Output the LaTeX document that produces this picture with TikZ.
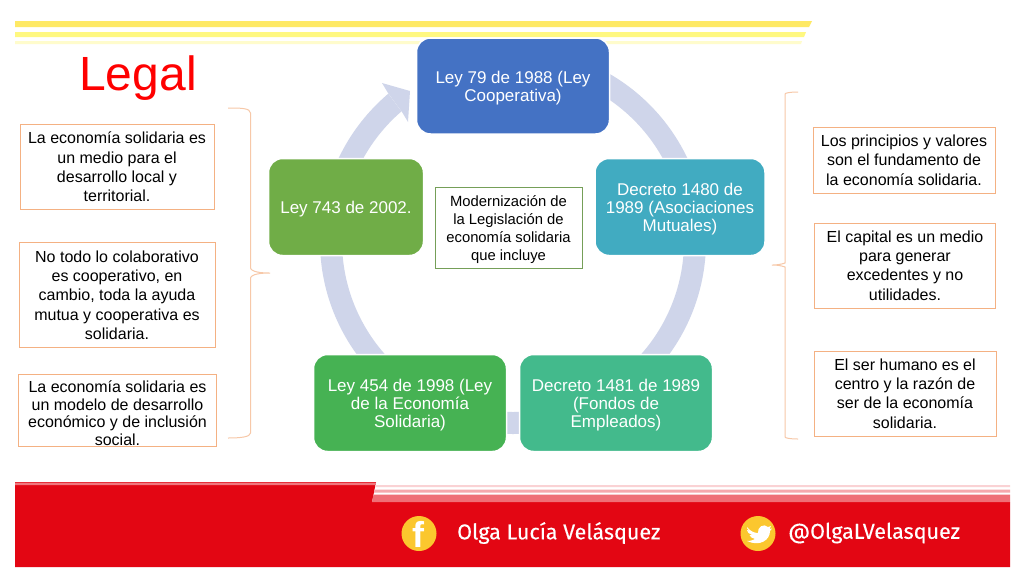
\documentclass[tikz,border=0pt]{standalone}
\usepackage{fontspec}
\setmainfont{Liberation Sans}
\newfontfamily\footfont[FakeBold=0.25]{Fira Sans}
\definecolor{ringc}{HTML}{CFD5EA}
\definecolor{bluec}{HTML}{4472C4}
\definecolor{tealc}{HTML}{41ABC1}
\definecolor{seac}{HTML}{43BA8C}
\definecolor{greenc}{HTML}{46B253}
\definecolor{oliv}{HTML}{70AD47}
\definecolor{orangec}{HTML}{F4B183}
\definecolor{bandred}{HTML}{E30613}
\definecolor{goldc}{HTML}{FBC72E}
\tikzset{
 x=1pt,y=-1pt,
 cyc/.style={draw=white,line width=1.5pt,rounded corners=14pt,text=white,align=center,font=\fontsize{17}{18}\selectfont,inner sep=0pt},
 note/.style={draw=orangec,line width=1pt,fill=white,align=center,text=black,font=\fontsize{16}{19.3}\selectfont,inner sep=0pt},
 brace/.style={draw=orangec!70,line width=1pt,rounded corners=3pt},
}
\newcommand{\cyclenode}[6]{\node[cyc,fill=#4,minimum width=#5pt,minimum height=#6pt] (#1) at #2 {\mbox{}\\[-1.6pt]#3};}
\begin{document}
\begin{tikzpicture}
\useasboundingbox (0,0) rectangle (1024,576);
\fill[white] (0,0) rectangle (1024,576);
% yellow bands
\fill[yellow!80!orange!60] (15,21) -- (812,21) -- (809,27) -- (15,27) -- cycle;
\fill[yellow!50] (15,32) -- (806,32) -- (804,37) -- (15,37) -- cycle;
\fill[yellow!20] (15,41) -- (802,41) -- (801,44) -- (15,44) -- cycle;
% ring
\draw[ringc,line width=22pt] (513,241) circle[radius=182pt];
\fill[white] (388,93) -- (402,112) -- (420,130) -- (420,60) -- (388,60) -- cycle;
\fill[ringc] (382,83) -- (410,91) -- (408,122) -- (402,112) -- (388,93) -- cycle;
% cycle nodes
\cyclenode{a}{(513,86)}{Ley 79 de 1988 (Ley\\Cooperativa)}{bluec}{193}{96}
\cyclenode{b}{(680,207)}{Decreto 1480 de\\1989 (Asociaciones\\Mutuales)}{tealc}{170}{97}
\cyclenode{c}{(616,403)}{Decreto 1481 de 1989\\(Fondos de\\Empleados)}{seac}{193}{97}
\cyclenode{d}{(410,403)}{Ley 454 de 1998 (Ley\\de la Economía\\Solidaria)}{greenc}{193}{97}
\cyclenode{e}{(346,207)}{Ley 743 de 2002.}{oliv}{155}{97}
% centre
\node[draw=oliv!70!gray,line width=.8pt,fill=white,minimum width=147pt,minimum height=81pt,align=center,inner sep=0pt,font=\fontsize{14.8}{18}\selectfont] (m) at (508.5,228) {\mbox{}\\[-3.2pt]Modernización de\\la Legislación de\\economía solidaria\\que incluye};
\node[text=red,font=\fontsize{48}{48}\selectfont] (t) at (138,78) {Legal};
% left notes
\node[note,minimum width=194pt,minimum height=85pt] (l1) at (117,167) {La economía solidaria es\\un medio para el\\desarrollo local y\\territorial.};
\node[note,minimum width=196pt,minimum height=105pt] (l2) at (117,295) {No todo lo colaborativo\\es cooperativo, en\\cambio, toda la ayuda\\mutua y cooperativa es\\solidaria.};
\node[note,minimum width=198pt,minimum height=72pt,font=\fontsize{16}{17.5}\selectfont] (l3) at (117.5,410.5) {\mbox{}\\[-0.8pt]La economía solidaria es\\un modelo de desarrollo\\económico y de inclusión\\social.};
% right notes
\node[note,minimum width=182pt,minimum height=66pt] (r1) at (904,160) {Los principios y valores\\son el fundamento de\\la economía solidaria.};
\node[note,minimum width=181pt,minimum height=85pt] (r2) at (905,265.5) {El capital es un medio\\para generar\\excedentes y no\\utilidades.};
\node[note,minimum width=182pt,minimum height=85pt] (r3) at (905,393.5) {El ser humano es el\\centro y la razón de\\ser de la economía\\solidaria.};
% braces
\draw[brace] (228,108) .. controls (240,108) and (250.5,108) .. (250.5,116) -- (250.5,265) .. controls (250.5,270) and (255,273) .. (272,273) .. controls (255,273) and (250.5,276) .. (250.5,281) -- (250.5,430) .. controls (250.5,437) and (240,438) .. (228,438);
\draw[brace] (798,92) .. controls (790,92) and (785,93) .. (785,97) -- (785,260) .. controls (785,263) and (780,265) .. (770,265) .. controls (780,265) and (785,267) .. (785,270) -- (785,434) .. controls (785,438) and (790,439) .. (798,439);
% footer
\fill[bandred] (15,482) -- (376,482) -- (372,502) -- (1010,502) -- (1010,567) -- (15,567) -- cycle;
\fill[bandred!55!white] (15,482.5) -- (376,482.5) -- (375.5,485) -- (15,485) -- cycle;
\fill[bandred!18!white] (375.5,485) -- (1010,485) -- (1010,487) -- (375,487) -- cycle;
\fill[bandred!35!white] (374.5,489.5) -- (1010,489.5) -- (1010,492.5) -- (374,492.5) -- cycle;
\fill[bandred!58!white] (373.5,494.5) -- (1010,494.5) -- (1010,502) -- (372,502) -- cycle;
% icons
\fill[goldc] (419,533.5) circle[radius=17.5pt];
\fill[goldc] (758,533.5) circle[radius=17.5pt];
\node[text=white,font=\bfseries\fontsize{36}{36}\selectfont,inner sep=0pt] (fb) at (418.5,534) {f};
\node[font=\fontsize{21.5}{21.5}\selectfont,text=white,inner sep=0pt,anchor=west] (n1) at (457,533) {\footfont Olga Lucía Velásquez};
\node[font=\fontsize{21.5}{21.5}\selectfont,text=white,inner sep=0pt,anchor=west] (n2) at (788,533) {\footfont @OlgaLVelasquez};
% twitter bird
\fill[white] (747,527) .. controls (750,531) and (754,533) .. (758,533) .. controls (757,527) and (764,523) .. (768,527) -- (771,526) -- (769.5,529) -- (772,528.5) -- (770,531) .. controls (770,540) and (760,547) .. (747,541) .. controls (751,541) and (753,540) .. (755,539) .. controls (752,538) and (750,537) .. (749.5,535) -- (752,535) .. controls (749,534) and (747,532) .. (747,530) -- (749,530.5) .. controls (747,529) and (747,528) .. (747,527) -- cycle;
\end{tikzpicture}
\end{document}
